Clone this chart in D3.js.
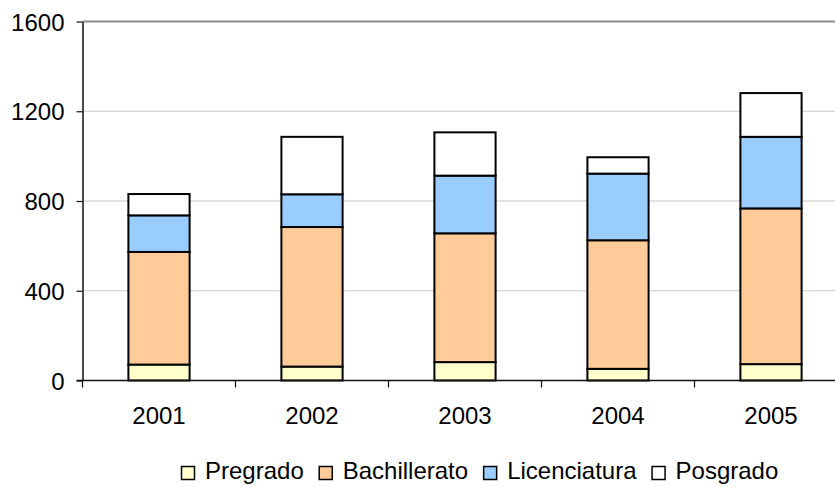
<html>
    <head>
        <style>
            body { margin: 0; background: #fff; }
            text { font-family: "Liberation Sans", Arial, sans-serif; fill: #000; }
        </style>
        <script src="https://d3js.org/d3.v7.min.js"></script>
    </head>
    <body>
        <svg id="chart" width="835" height="487"></svg>
        <script>
            // data
            const years = ['2001', '2002', '2003', '2004', '2005'];
            const seriesNames = ['Pregrado', 'Bachillerato', 'Licenciatura', 'Posgrado'];
            const pregrado     = [71, 62, 82, 52, 73];
            const bachillerato = [502, 622, 574, 573, 694];
            const licenciatura = [163, 146, 257, 297, 319];
            const posgrado     = [95, 256, 193, 73, 195];
            const yTicks = [0, 400, 800, 1200, 1600];

            const colors = ['#FFFFCC', '#FFCC99', '#99CCFF', '#FFFFFF'];

            const svg = d3.select('#chart');
            const plotLeft = 82.5, plotTop = 21.5, plotBottom = 380.5, plotRight = 847.5;

            // build rows for the stack
            const rows = years.map((yr, i) => ({
                year: yr,
                Pregrado: pregrado[i],
                Bachillerato: bachillerato[i],
                Licenciatura: licenciatura[i],
                Posgrado: posgrado[i]
            }));
            const stacked = d3.stack().keys(seriesNames)(rows);

            const x = d3.scaleBand().domain(years).range([plotLeft, plotRight])
                .paddingInner(0.6).paddingOuter(0.3);
            const y = d3.scaleLinear().domain([0, 1600]).range([plotBottom, plotTop]);

            // gridlines
            svg.append('g').selectAll('line')
                .data(yTicks.filter(d => d > 0 && d < 1600))
                .join('line')
                .attr('x1', plotLeft).attr('x2', plotRight)
                .attr('y1', d => y(d)).attr('y2', d => y(d))
                .style('stroke', '#c8c8c8').style('stroke-width', 1.2);

            // top border of plot area
            svg.append('line')
                .attr('x1', plotLeft).attr('x2', plotRight)
                .attr('y1', y(1600)).attr('y2', y(1600))
                .style('stroke', '#8c8c8c').style('stroke-width', 2);

            // bars
            svg.append('g').selectAll('g')
                .data(stacked)
                .join('g')
                .style('fill', (d, i) => colors[i])
                .selectAll('rect')
                .data(d => d)
                .join('rect')
                .attr('x', d => x(d.data.year))
                .attr('width', x.bandwidth())
                .attr('y', d => y(d[1]))
                .attr('height', d => y(d[0]) - y(d[1]))
                .style('stroke', '#000').style('stroke-width', 2);

            // y axis
            const yAxis = svg.append('g')
                .attr('transform', `translate(${plotLeft},0)`)
                .call(d3.axisLeft(y).tickValues(yTicks).tickFormat(d3.format('d'))
                    .tickSize(6).tickPadding(12).tickSizeOuter(0));
            yAxis.select('.domain').style('stroke', '#111').style('stroke-width', 1.5);
            yAxis.selectAll('.tick line').style('stroke', '#111').style('stroke-width', 1.2);
            yAxis.selectAll('text').style('font-size', '24px')
                .style('font-family', '"Liberation Sans", Arial, sans-serif')
                .attr('dy', '0.36em');

            // x axis: labels centred, tick marks at category boundaries
            const xAxis = svg.append('g')
                .attr('transform', `translate(0,${plotBottom})`)
                .call(d3.axisBottom(x).tickSize(0).tickPadding(26));
            xAxis.select('.domain').remove();
            xAxis.selectAll('text').style('font-size', '24px')
                .style('font-family', '"Liberation Sans", Arial, sans-serif');

            svg.append('line')
                .attr('x1', plotLeft - 6).attr('x2', plotRight)
                .attr('y1', plotBottom).attr('y2', plotBottom)
                .style('stroke', '#111').style('stroke-width', 1.5);

            const bounds = d3.range(years.length + 1).map(i => plotLeft + i * x.step());
            svg.append('g').selectAll('line')
                .data(bounds)
                .join('line')
                .attr('x1', d => d).attr('x2', d => d)
                .attr('y1', plotBottom).attr('y2', plotBottom + 7)
                .style('stroke', '#111').style('stroke-width', 1.2);

            // legend
            const legend = svg.append('g');
            let lx = 181;
            seriesNames.forEach((name, i) => {
                legend.append('rect')
                    .attr('x', lx + 0.5).attr('y', 466.5)
                    .attr('width', 13).attr('height', 13)
                    .style('fill', colors[i]).style('stroke', '#000').style('stroke-width', 1.5);
                const t = legend.append('text')
                    .attr('x', lx + 24).attr('y', 479)
                    .style('font-size', '24px')
                    .text(name);
                lx += 24 + t.node().getComputedTextLength() + 15;
            });
        </script>
    </body>
</html>
